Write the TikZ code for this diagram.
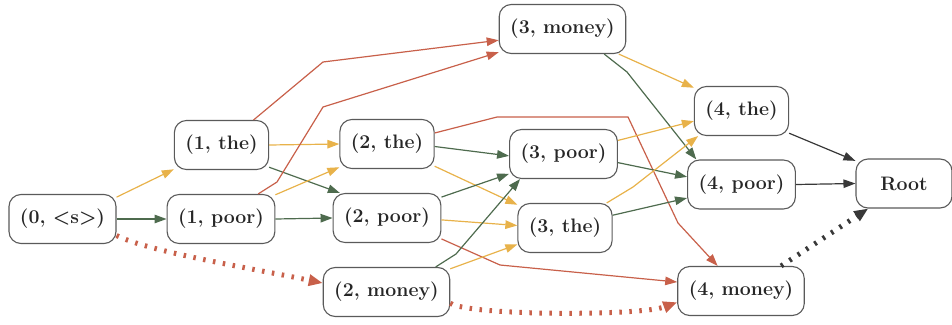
\documentclass[tikz,border=0pt]{standalone}
\usetikzlibrary{arrows.meta}
\definecolor{nodegray}{HTML}{5A5A5A}
\definecolor{edgeorange}{HTML}{E8B24A}
\definecolor{edgegreen}{HTML}{4E6B4E}
\definecolor{edgered}{HTML}{C8604A}
\definecolor{edgedark}{HTML}{383838}
\begin{document}
\begin{tikzpicture}[x=1pt,y=-1pt,
  state/.style={draw=nodegray, line width=1.1pt, rounded corners=12pt, fill=white,
    minimum height=49pt, inner xsep=11pt, text=black!85,
    font=\fontsize{19.5}{21}\selectfont\bfseries},
  edge/.style={line width=1.2pt, -{Triangle[length=12pt,width=8.5pt]}},
  orangeE/.style={edge, draw=edgeorange},
  greenE/.style={edge, draw=edgegreen},
  redE/.style={edge, draw=edgered},
  darkE/.style={edge, draw=edgedark},
  dotE/.style={line width=5pt, dash pattern=on 2.5pt off 7.5pt,
    -{Triangle[length=14pt,width=11pt]}},
  redD/.style={dotE, draw=edgered},
  darkD/.style={dotE, draw=edgedark}]
\useasboundingbox (0,0) rectangle (952,324);

% lattice states
\node[state] (s0)   at (62.5,219)  {(0, <s>)};
\node[state] (t1)   at (221.5,145) {(1, the)};
\node[state] (p1)   at (221,219)   {(1, poor)};
\node[state] (t2)   at (387,144)   {(2, the)};
\node[state] (p2)   at (387,218)   {(2, poor)};
\node[state] (m2)   at (386.5,292) {(2, money)};
\node[state] (m3)   at (562.5,29)  {(3, money)};
\node[state] (p3)   at (563.5,154) {(3, poor)};
\node[state] (t3)   at (565,228)   {(3, the)};
\node[state] (t4)   at (741.5,111) {(4, the)};
\node[state] (p4)   at (741.5,184.5) {(4, poor)};
\node[state] (m4)   at (741,291)   {(4, money)};
\node[state, minimum width=96pt] (root) at (904,183.5) {Root};

% transitions
\draw[orangeE] (s0.22) -- (t1.207);
\draw[greenE]  (s0.east) -- (p1.west);
\draw[redD]    (s0.-17) .. controls (150,252) and (250,268) .. (m2.172);
\draw[orangeE] (t1.east) -- (t2.west);
\draw[greenE]  (t1.-25) -- (p2.152);
\draw[redE]    (t1.38) -- (323,62) -- (m3.190);
\draw[redE]    (p1.34) -- (277,182) -- (323,107) -- (m3.200);
\draw[orangeE] (p1.24) -- (t2.206);
\draw[greenE]  (p1.east) -- (p2.west);
\draw[greenE]  (t2.-3) -- (p3.182);
\draw[orangeE] (t2.-25) -- (t3.154);
\draw[redE]    (t2.13) -- (497,117) -- (628,117) -- (678,223) -- (m4.133);
\draw[greenE]  (p2.21) -- (p3.200);
\draw[orangeE] (p2.-2) -- (t3.177);
\draw[redE]    (p2.-21) -- (500,265) -- (m4.172);
\draw[greenE]  (m2.27) -- (456,254) -- (p3.210);
\draw[orangeE] (m2.20) -- (t3.199);
\draw[redD]    (m2.-10) .. controls (470,316) and (640,316) .. (m4.190);
\draw[orangeE] (m3.-24) -- (t4.154);
\draw[greenE]  (m3.-31) -- (627,72) -- (p4.151);
\draw[orangeE] (p3.14) -- (t4.192);
\draw[greenE]  (p3.-9) -- (p4.172);
\draw[orangeE] (t3.31) -- (633,187) -- (t4.210);
\draw[greenE]  (t3.15) -- (p4.194);
\draw[darkE]   (t4.-25) -- (root.155);
\draw[darkE]   (p4.east) -- (root.west);
\draw[darkD]   (m4.32) -- (root.215);
\end{tikzpicture}
\end{document}
